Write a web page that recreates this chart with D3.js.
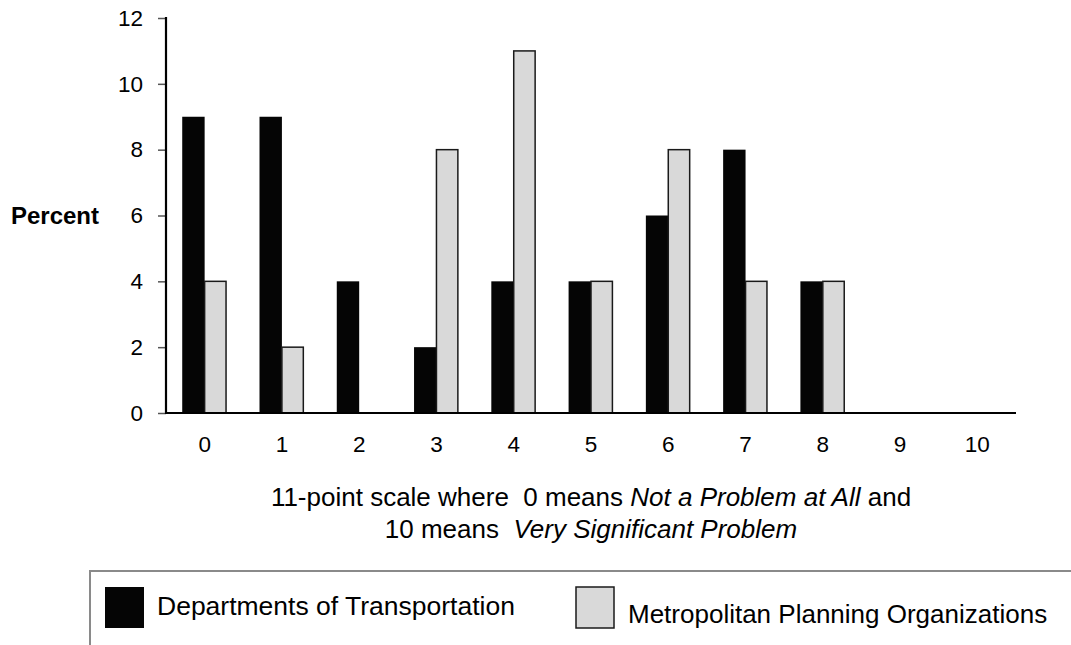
<!DOCTYPE html>
<html>
<head>
<meta charset="utf-8">
<script src="https://cdn.jsdelivr.net/npm/d3@7"></script>
<style>
  html, body { margin: 0; padding: 0; background: #fff; }
  svg { display: block; font-family: "Liberation Sans", Arial, sans-serif; }
  .pre { white-space: pre; }
</style>
</head>
<body>
<svg id="chart" width="1071" height="645"></svg>
<script>
const categories = ["0","1","2","3","4","5","6","7","8","9","10"];
const seriesNames = ["Departments of Transportation", "Metropolitan Planning Organizations"];
const dotValues = [9, 9, 4, 2, 4, 4, 6, 8, 4, 0, 0];
const mpoValues = [4, 2, 0, 8, 11, 4, 8, 4, 4, 0, 0];
const yTicks = [0, 2, 4, 6, 8, 10, 12];

(function () {
const svg = d3.select("#chart");
const mLeft = 166, mRight = 1016, mTop = 18, mBottom = 413;

const x0 = d3.scaleBand().domain(categories).range([mLeft, mRight])
  .paddingInner(0.42).paddingOuter(0.21);
const x1 = d3.scaleBand().domain(["dot", "mpo"]).range([0, x0.bandwidth()]);
const y = d3.scaleLinear().domain([0, 12]).range([mBottom, mTop]);

const rows = categories.map((c, i) => ({ cat: c, dot: dotValues[i], mpo: mpoValues[i] }));

// Bars
const groups = svg.append("g").selectAll("g").data(rows).join("g")
  .attr("transform", d => `translate(${x0(d.cat)},0)`);

groups.filter(d => d.dot > 0).append("rect")
  .attr("x", x1("dot")).attr("width", x1.bandwidth())
  .attr("y", d => y(d.dot)).attr("height", d => y(0) - y(d.dot))
  .attr("fill", "#050505");

groups.filter(d => d.mpo > 0).append("rect")
  .attr("x", x1("mpo")).attr("width", x1.bandwidth() - 1)
  .attr("y", d => y(d.mpo)).attr("height", d => y(0) - y(d.mpo))
  .attr("fill", "#d9d9d9").attr("stroke", "#1a1a1a").attr("stroke-width", 1.5);

// Y axis
const yAxis = svg.append("g").attr("transform", `translate(${mLeft},0)`)
  .call(d3.axisLeft(y).tickValues(yTicks).tickSize(8).tickSizeOuter(0).tickPadding(15));
yAxis.select(".domain").remove();
yAxis.selectAll(".tick line").attr("stroke", "#555").attr("stroke-width", 1.5);
yAxis.selectAll(".tick text").attr("font-size", 22.5).attr("fill", "#000")
  .attr("font-family", "'Liberation Sans', Arial, sans-serif");

// X axis labels
const xAxis = svg.append("g").attr("transform", `translate(0,${mBottom})`)
  .call(d3.axisBottom(x0).tickSize(0).tickPadding(23));
xAxis.select(".domain").remove();
xAxis.selectAll(".tick text").attr("font-size", 22.5).attr("fill", "#000")
  .attr("font-family", "'Liberation Sans', Arial, sans-serif");

// Axis lines
svg.append("line").attr("x1", mLeft).attr("x2", mLeft).attr("y1", mTop - 1).attr("y2", mBottom + 1)
  .attr("stroke", "#000").attr("stroke-width", 2.2);
svg.append("line").attr("x1", mLeft).attr("x2", mRight).attr("y1", mBottom).attr("y2", mBottom)
  .attr("stroke", "#000").attr("stroke-width", 2.2);

// Y title
svg.append("text").attr("x", 99).attr("y", 224).attr("text-anchor", "end")
  .attr("font-size", 24).attr("font-weight", "bold").text("Percent");

// X title
const cx = (mLeft + mRight) / 2;
const t1 = svg.append("text").attr("class", "pre").attr("x", cx).attr("y", 506)
  .attr("text-anchor", "middle").attr("font-size", 26);
t1.append("tspan").text("11-point scale where  0 means ");
t1.append("tspan").attr("font-style", "italic").text("Not a Problem at All");
t1.append("tspan").text(" and");
const t2 = svg.append("text").attr("class", "pre").attr("x", cx).attr("y", 538)
  .attr("text-anchor", "middle").attr("font-size", 26);
t2.append("tspan").text("10 means  ");
t2.append("tspan").attr("font-style", "italic").text("Very Significant Problem");

// Legend
svg.append("rect").attr("x", 90).attr("y", 571).attr("width", 1100).attr("height", 200)
  .attr("fill", "none").attr("stroke", "#8a8a8a").attr("stroke-width", 2);
svg.append("rect").attr("x", 105).attr("y", 587).attr("width", 39).attr("height", 41).attr("fill", "#050505");
svg.append("text").attr("x", 157).attr("y", 615).attr("font-size", 26.5).text(seriesNames[0]);
svg.append("rect").attr("x", 576).attr("y", 587).attr("width", 38).attr("height", 41)
  .attr("fill", "#d9d9d9").attr("stroke", "#1a1a1a").attr("stroke-width", 1.5);
svg.append("text").attr("x", 628).attr("y", 623).attr("font-size", 26).text(seriesNames[1]);
})();
</script>
</body>
</html>
